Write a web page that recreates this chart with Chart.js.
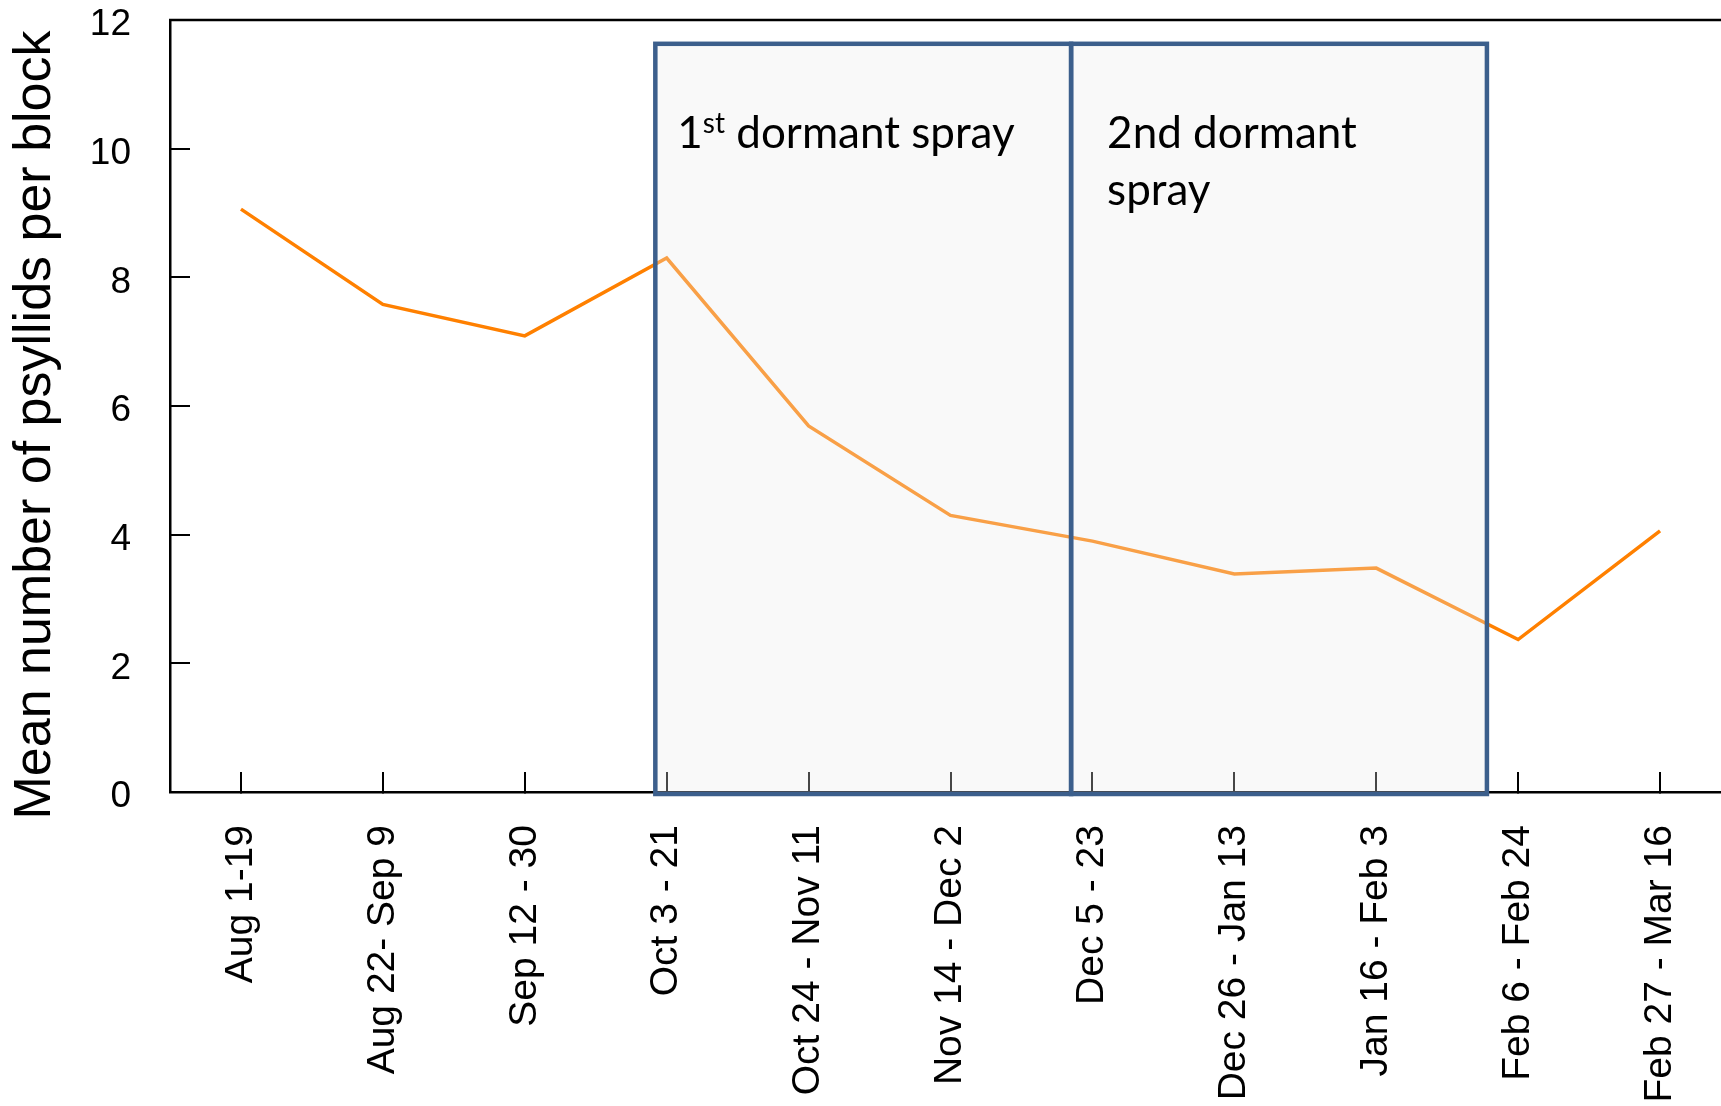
<!DOCTYPE html>
<html>
<head>
<meta charset="utf-8">
<title>Psyllids per block</title>
<script src="https://cdn.jsdelivr.net/npm/chart.js@4.4.1/dist/chart.umd.min.js"></script>
<style>
html, body { margin: 0; padding: 0; background: #fff; overflow: hidden; }
#wrap { width: 1731px; height: 1106px; }
</style>
</head>
<body>
<div id="wrap"><canvas id="chart" width="1731" height="1106"></canvas></div>
<script>
/* data */
const periods = ["Aug 1-19", "Aug 22- Sep 9", "Sep 12 - 30", "Oct 3 - 21", "Oct 24 - Nov 11",
  "Nov 14 - Dec 2", "Dec 5 - 23", "Dec 26 - Jan 13", "Jan 16 - Feb 3", "Feb 6 - Feb 24", "Feb 27 - Mar 16"];
const psyllids = [9.06, 7.58, 7.09, 8.30, 5.69, 4.30, 3.90, 3.39, 3.48, 2.37, 4.06];
const yTicks = [0, 2, 4, 6, 8, 10, 12];
const yTitle = "Mean number of psyllids per block";

/* spray periods (category index units) and their labels */
const sprayFrom = [2.92, 5.85];
const sprayTo = [5.85, 8.78];
const sprayTop = 11.63;
// each line is a list of parts, odd parts are superscript
const sprayText = [
  [["1", "st", " dormant spray"]],
  [["2nd dormant"], ["spray"]]
];

/* boxes, frame and axis title */
const overlay = {
  id: "overlay",
  afterDraw(chart) {
    const { ctx, chartArea, scales: { x, y } } = chart;
    ctx.save();

    // top frame line
    ctx.strokeStyle = "#000";
    ctx.lineWidth = 2.5;
    ctx.beginPath();
    ctx.moveTo(chartArea.left - 1, chartArea.top);
    ctx.lineTo(chartArea.right, chartArea.top);
    ctx.stroke();

    const textDx = [22, 36];
    for (let i = 0; i < sprayFrom.length; i++) {
      const x0 = x.getPixelForValue(sprayFrom[i]);
      const x1 = x.getPixelForValue(sprayTo[i]);
      const y0 = y.getPixelForValue(sprayTop);
      const y1 = y.getPixelForValue(0) + 2;
      ctx.fillStyle = "rgba(236,236,236,0.3)";
      ctx.fillRect(x0, y0, x1 - x0, y1 - y0);
      ctx.strokeStyle = "#3c5f8c";
      ctx.lineWidth = 4.5;
      ctx.strokeRect(x0, y0, x1 - x0, y1 - y0);

      ctx.fillStyle = "#000";
      ctx.textBaseline = "alphabetic";
      ctx.textAlign = "left";
      sprayText[i].forEach((line, k) => {
        let tx = x0 + textDx[i];
        const ty = y0 + 104 + k * 57;
        line.forEach((part, j) => {
          const sup = j % 2 === 1;
          ctx.font = sup ? "28px Lato" : "44px Lato";
          ctx.fillText(part, tx, sup ? ty - 15 : ty);
          tx += ctx.measureText(part).width;
        });
      });
    }

    // y axis title
    ctx.translate(50, (chartArea.top + chartArea.bottom) / 2 + 19);
    ctx.rotate(-Math.PI / 2);
    ctx.font = "52px 'Liberation Sans'";
    ctx.textAlign = "center";
    ctx.fillStyle = "#000";
    ctx.fillText(yTitle, 0, 0);
    ctx.restore();
  }
};

new Chart(document.getElementById("chart"), {
  type: "line",
  data: {
    labels: periods,
    datasets: [{
      data: psyllids,
      borderColor: "#ff8000",
      borderWidth: 3.5,
      pointRadius: 0,
      tension: 0,
      fill: false
    }]
  },
  options: {
    responsive: false,
    animation: false,
    layout: { padding: { top: 20, right: 0, bottom: 0, left: 0 } },
    plugins: { legend: { display: false }, tooltip: { enabled: false } },
    scales: {
      x: {
        offset: true,
        grid: { drawOnChartArea: false, tickLength: -20, color: "#000", lineWidth: 2, offset: false },
        border: { color: "#000", width: 2.5 },
        ticks: {
          autoSkip: false, minRotation: 90, maxRotation: 90, padding: 53,
          color: "#000", font: { family: "'Liberation Sans'", size: 39, lineHeight: 1 }
        },
        afterFit(scale) {
          scale.height = 314;
          scale.paddingLeft = 0;
          scale.paddingRight = 0;
        }
      },
      y: {
        min: 0,
        max: 12,
        afterBuildTicks(scale) { scale.ticks = yTicks.map(v => ({ value: v })); },
        grid: { drawOnChartArea: false, tickLength: -20, color: "#000", lineWidth: 2 },
        border: { color: "#000", width: 2.5 },
        ticks: {
          padding: 59, labelOffset: 5, color: "#000",
          font: { family: "'Liberation Sans'", size: 37, lineHeight: 1 }
        },
        afterFit(scale) {
          scale.width = 170;
          scale.paddingTop = 0;
          scale.paddingBottom = 0;
        }
      }
    }
  },
  plugins: [overlay]
});
</script>
</body>
</html>
